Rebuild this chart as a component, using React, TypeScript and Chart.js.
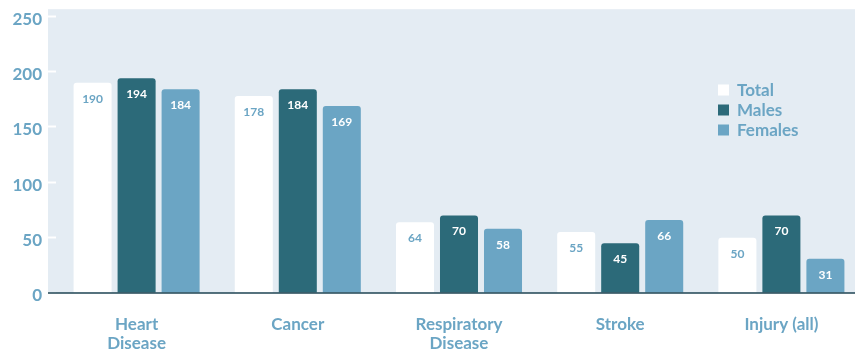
import React, { useEffect, useRef } from "react";
import { Chart, registerables } from "chart.js";

Chart.register(...registerables);

// Death rates by cause and sex
const categories: (string | string[])[] = [
  ["Heart", "Disease"],
  "Cancer",
  ["Respiratory", "Disease"],
  "Stroke",
  "Injury (all)",
];
const totalValues = [190, 178, 64, 55, 50];
const maleValues = [194, 184, 70, 45, 70];
const femaleValues = [184, 169, 58, 66, 31];
const yTicks = [0, 50, 100, 150, 200, 250];

const seriesNames = ["Total", "Males", "Females"];
const seriesColors = ["#ffffff", "#2c6a79", "#6ba5c4"];
const valueLabelColors = ["#6ba5c4", "#ffffff", "#ffffff"];

const PANEL_BG = "#e4ecf3";
const TEXT_BLUE = "#6ba5c4";
const AXIS_DARK = "#1f4553";
const FONT = "Lato, 'Open Sans', sans-serif";

const panelPlugin = {
  id: "panel",
  beforeDraw(chart: any) {
    const { ctx, chartArea } = chart;
    ctx.save();
    ctx.fillStyle = PANEL_BG;
    ctx.fillRect(
      chartArea.left - 8,
      chartArea.top - 7,
      chart.width - (chartArea.left - 8),
      chartArea.bottom - (chartArea.top - 7)
    );
    ctx.restore();
  },
};

const overlayPlugin = {
  id: "overlay",
  afterDatasetsDraw(chart: any) {
    const { ctx, chartArea } = chart;
    ctx.save();
    // baseline
    ctx.strokeStyle = AXIS_DARK;
    ctx.lineWidth = 1.5;
    ctx.beginPath();
    ctx.moveTo(chartArea.left - 8, chartArea.bottom);
    ctx.lineTo(chart.width, chartArea.bottom);
    ctx.stroke();

    // value labels inside bars
    ctx.font = `bold 12px ${FONT}`;
    ctx.textAlign = "center";
    ctx.textBaseline = "middle";
    chart.data.datasets.forEach((ds: any, di: number) => {
      const meta = chart.getDatasetMeta(di);
      meta.data.forEach((bar: any, i: number) => {
        ctx.fillStyle = valueLabelColors[di];
        ctx.fillText(String(ds.data[i]), bar.x, bar.y + 16);
      });
    });

    // legend
    const lx = 718;
    const ly = 90;
    ctx.font = `bold 17px ${FONT}`;
    ctx.textAlign = "left";
    seriesNames.forEach((name, i) => {
      const y = ly + i * 20;
      ctx.fillStyle = seriesColors[i];
      ctx.fillRect(lx, y - 5.5, 11, 11);
      ctx.fillStyle = TEXT_BLUE;
      ctx.fillText(name, lx + 19, y + 1);
    });
    ctx.restore();
  },
};

function DeathRateChart() {
  const canvasRef = useRef<HTMLCanvasElement | null>(null);

  useEffect(() => {
    if (!canvasRef.current) return;
    const chart = new Chart(canvasRef.current, {
      type: "bar",
      data: {
        labels: categories,
        datasets: [totalValues, maleValues, femaleValues].map((values, i) => ({
          label: seriesNames[i],
          data: values,
          backgroundColor: seriesColors[i],
          borderRadius: 3,
          borderSkipped: "bottom",
          categoryPercentage: 0.819,
          barPercentage: 0.864,
        })),
      },
      options: {
        animation: false,
        responsive: false,
        maintainAspectRatio: false,
        layout: { padding: { top: 16, right: 0, left: 0, bottom: 0 } },
        plugins: {
          legend: { display: false },
          tooltip: { enabled: false },
        },
        scales: {
          x: {
            grid: { display: false },
            border: { display: false },
            ticks: {
              color: TEXT_BLUE,
              font: { family: FONT, size: 17, weight: "bold", lineHeight: 1.06 },
              padding: 15,
              maxRotation: 0,
              autoSkip: false,
            },
            afterFit(scale: any) {
              scale.height = 57;
            },
          },
          y: {
            min: 0,
            max: 250,
            afterBuildTicks(scale: any) {
              scale.ticks = yTicks.map((v) => ({ value: v }));
            },
            grid: {
              drawOnChartArea: false,
              drawTicks: true,
              tickLength: 8,
              tickColor: "#ffffff",
              tickWidth: 2,
            },
            border: { display: false },
            ticks: {
              color: TEXT_BLUE,
              font: { family: FONT, size: 17, weight: "bold" },
              padding: 6,
              labelOffset: 3,
            },
            afterFit(scale: any) {
              scale.width = 56;
            },
          },
        },
      },
      plugins: [panelPlugin, overlayPlugin],
    });
    return () => chart.destroy();
  }, []);

  return (
    <div
      style={{
        position: "absolute",
        left: 0,
        top: 0,
        width: 855,
        height: 350,
        overflow: "hidden",
        background: "#ffffff",
      }}
    >
      <canvas ref={canvasRef} width={862} height={350} style={{ display: "block" }} />
    </div>
  );
}

export default function App() {
  useEffect(() => {
    document.body.style.overflow = "hidden";
  }, []);
  return <DeathRateChart />;
}
